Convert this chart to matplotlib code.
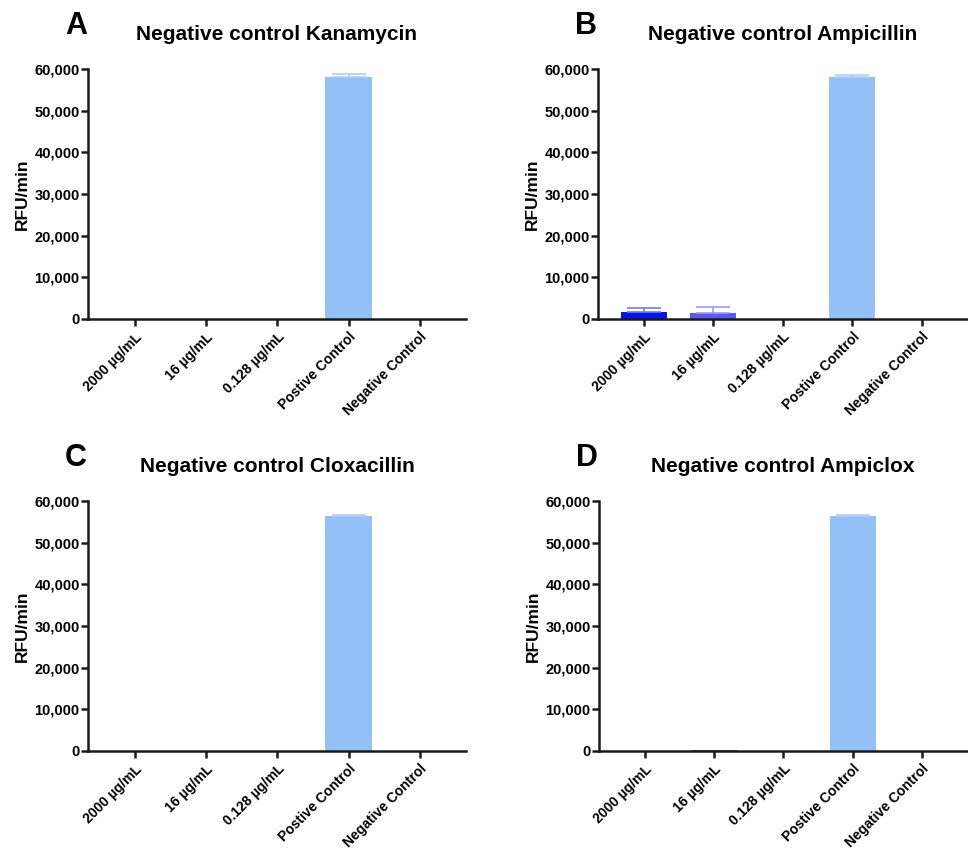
import matplotlib
matplotlib.use("Agg")
import matplotlib.pyplot as plt
import numpy as np

plt.rcParams['font.family'] = ['Liberation Sans', 'DejaVu Sans']
plt.rcParams['font.weight'] = 'bold'

# categories shared by all panels
categories = ["2000 \u00b5g/mL", "16 \u00b5g/mL", "0.128 \u00b5g/mL", "Postive Control", "Negative Control"]

# mean RFU/min and error (upper SD) per panel
kan_vals = [0, 0, 0, 58000, 0]
kan_err = [0, 0, 0, 700, 0]
amp_vals = [1800, 1450, 0, 58000, 0]
amp_err = [800, 1500, 0, 600, 0]
clox_vals = [120, 0, 120, 56500, 0]
clox_err = [0, 0, 0, 150, 0]
ampiclox_vals = [120, 300, 0, 56500, 0]
ampiclox_err = [0, 0, 0, 150, 0]

titles = ["Negative control Kanamycin", "Negative control Ampicillin",
          "Negative control Cloxacillin", "Negative control Ampiclox"]
letters = ["A", "B", "C", "D"]

bar_colors = ["#0a14e6", "#5a5af2", "#9aa6f5", "#94c0f8", "#b0b0b0"]
err_colors = ["#6f7df0", "#9a9af6", "#b8c2f7", "#b0cffa", "#b0b0b0"]

panels = [(kan_vals, kan_err), (amp_vals, amp_err),
          (clox_vals, clox_err), (ampiclox_vals, ampiclox_err)]

W, H = 968, 851
fig = plt.figure(figsize=(W / 100, H / 100), dpi=100)

# axes boxes in pixels: left, top, right, bottom
boxes = [(88, 69, 466, 319), (598, 69, 967, 319),
         (88, 501, 466, 751), (599, 501, 967, 751)]

for i, (vals, errs) in enumerate(panels):
    l, t, r, b = boxes[i]
    ax = fig.add_axes([l / W, 1 - b / H, (r - l) / W, (b - t) / H])
    x = np.arange(len(categories))
    for j in range(len(categories)):
        ax.bar(x[j], vals[j], width=0.66, color=bar_colors[j], zorder=2)
        if errs[j] > 0:
            ax.errorbar(x[j], vals[j], yerr=[[0], [errs[j]]], ecolor=err_colors[j],
                        elinewidth=1.2, capsize=12, capthick=1.2, fmt='none', zorder=3)
    ax.set_xlim(-0.66, 4.65)
    ax.set_ylim(0, 60000)
    ax.set_yticks(np.arange(0, 60001, 10000))
    ax.set_yticklabels(["{:,}".format(v) for v in range(0, 60001, 10000)],
                       fontsize=10.5, fontweight='bold')
    ax.set_xticks(x)
    ax.set_xticklabels(categories, rotation=45, ha='right', rotation_mode='anchor',
                       fontsize=10, fontweight='bold')
    for s in ['top', 'right']:
        ax.spines[s].set_visible(False)
    for s in ['left', 'bottom']:
        ax.spines[s].set_linewidth(1.8)
        ax.spines[s].set_color('#1a1a1a')
    ax.tick_params(axis='y', width=1.8, length=5, color='#1a1a1a', pad=1)
    ax.tick_params(axis='x', width=1.8, length=5, color='#1a1a1a', pad=3)
    ax.set_ylabel("RFU/min", fontsize=12.5, fontweight='bold', labelpad=3)
    ax.set_title(titles[i], fontsize=15, fontweight='bold', pad=21)
    fig.text((l - 12) / W, 1 - (t - 43) / H, letters[i], fontsize=22,
             fontweight='bold', ha='center', va='center')

fig.savefig("out.png", dpi=100)
